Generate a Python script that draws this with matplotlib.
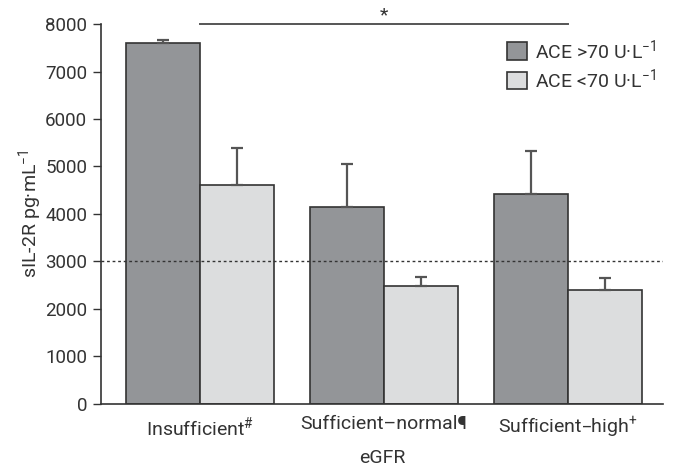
import numpy as np
import matplotlib.pyplot as plt

plt.rcParams['font.family'] = ['Roboto', 'DejaVu Sans']
plt.rcParams['mathtext.default'] = 'regular'

# data
groups = ['Insufficient$^{\\#}$', 'Sufficient\u2013normal\u00b6', 'Sufficient\u2013high$^{+}$']
ace_high = [7600, 4150, 4420]
ace_high_err = [60, 910, 905]
ace_low = [4600, 2490, 2400]
ace_low_err = [790, 190, 250]
cutoff = 3000

x = np.arange(len(groups))
width = 0.40
txt = '#333333'

fig = plt.figure(figsize=(6.81, 4.68), dpi=100)
ax = fig.add_axes([0.1483, 0.1368, 0.8253, 0.8119])

err_kw = dict(ecolor='#555555', elinewidth=1.6, capsize=4.5, capthick=1.6)
ax.bar(x - width / 2, ace_high, width, color='#939598', edgecolor=txt,
       linewidth=1.2, yerr=[np.zeros(3), ace_high_err], error_kw=err_kw,
       label='ACE >70 U\u00b7L$^{\u22121}$', zorder=2)
ax.bar(x + width / 2, ace_low, width, color='#dcddde', edgecolor=txt,
       linewidth=1.2, yerr=[np.zeros(3), ace_low_err], error_kw=err_kw,
       label='ACE <70 U\u00b7L$^{\u22121}$', zorder=2)

# reference line
ax.axhline(cutoff, color=txt, linestyle=(0, (2, 2)), linewidth=1.0, zorder=3)

# significance bar
ax.plot([x[0], x[2]], [8000, 8000], color='#555555', linewidth=1.4, clip_on=False)
ax.text(x[1], 8000, '*', ha='center', va='bottom', fontsize=14, color=txt)

ax.set_xlim(-0.538, 2.516)
ax.set_ylim(0, 8000)
ax.set_yticks(range(0, 8001, 1000))
ax.set_xticks(x)
ax.set_xticklabels(groups)
ax.tick_params(axis='x', length=0, pad=8, labelsize=14, colors=txt)
ax.tick_params(axis='y', length=6, width=1, labelsize=13.5, colors=txt, pad=4)
ax.set_xlabel('eGFR', fontsize=14, color=txt, labelpad=6)
ax.set_ylabel('sIL-2R pg\u00b7mL$^{\u22121}$', fontsize=14, color=txt, labelpad=1)

for side in ['top', 'right']:
    ax.spines[side].set_visible(False)
for side in ['left', 'bottom']:
    ax.spines[side].set_color(txt)
    ax.spines[side].set_linewidth(1.2)

ax.legend(loc='upper right', bbox_to_anchor=(1.02, 1.01), frameon=False, fontsize=14,
          handlelength=1.0, handleheight=1.0, handletextpad=0.45, labelspacing=0.3,
          labelcolor=txt)

fig.savefig('out.png', dpi=100)
